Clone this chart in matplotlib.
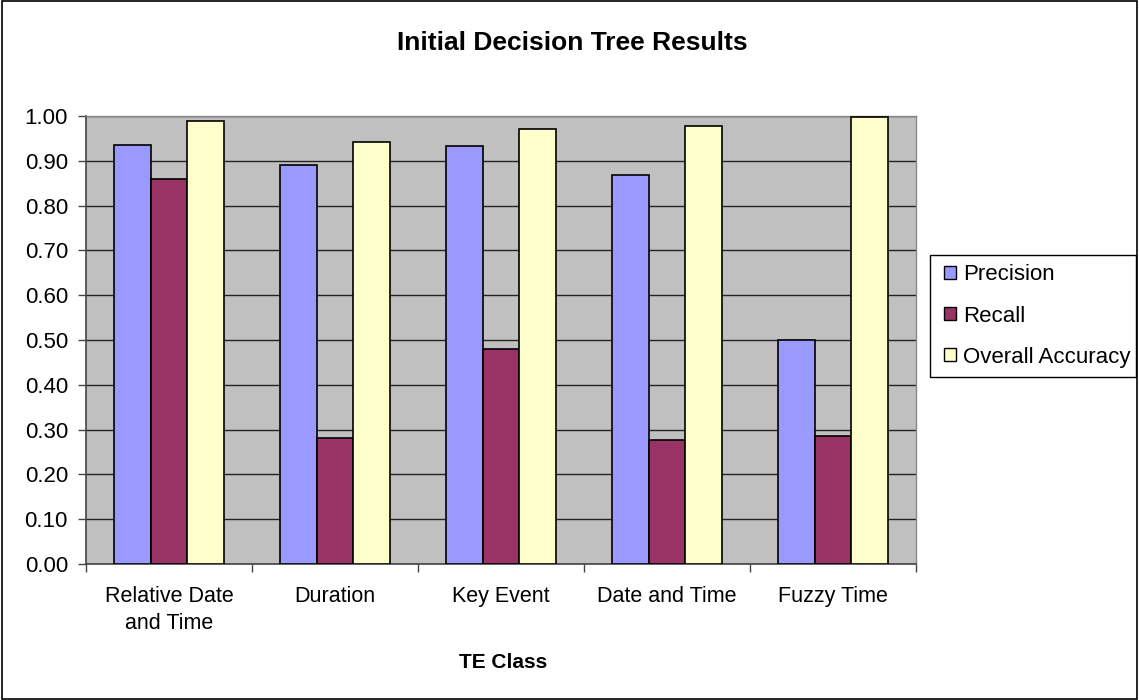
import matplotlib
matplotlib.use("Agg")
import matplotlib.pyplot as plt
from matplotlib.patches import Rectangle
from matplotlib.ticker import FixedLocator, MultipleLocator, NullFormatter
import numpy as np

plt.rcParams['font.family'] = ['Liberation Sans', 'DejaVu Sans']

categories = ["Relative Date\nand Time", "Duration", "Key Event", "Date and Time", "Fuzzy Time"]
series_names = ["Precision", "Recall", "Overall Accuracy"]
precision = [0.936, 0.891, 0.932, 0.868, 0.501]
recall = [0.859, 0.281, 0.481, 0.277, 0.285]
accuracy = [0.988, 0.943, 0.970, 0.977, 0.997]
series_values = [precision, recall, accuracy]
series_colors = ["#9999FF", "#993366", "#FFFFCC"]

W, H = 1139, 700
fig = plt.figure(figsize=(W / 100, H / 100), dpi=100)
ax = fig.add_axes([86 / W, 1 - 564 / H, (916 - 86) / W, (564 - 116) / H])
ax.set_facecolor("#C0C0C0")

x = np.arange(len(categories))
bar_w = 1 / 4.5
for i, (name, vals, col) in enumerate(zip(series_names, series_values, series_colors)):
    ax.bar(x + (i - 1) * bar_w, vals, width=bar_w, color=col, edgecolor="black",
           linewidth=1.2, label=name, zorder=3)

ax.set_xlim(-0.5, len(categories) - 0.5)
ax.set_ylim(0, 1.0)
ax.yaxis.set_major_locator(MultipleLocator(0.1))
ax.set_yticklabels([f"{v:.2f}" for v in ax.get_yticks()])
ax.yaxis.grid(True, color="#222222", linewidth=1.0, zorder=1)
ax.set_axisbelow(True)

ax.set_xticks(x)
ax.set_xticklabels(categories, fontsize=15.5, linespacing=1.35)
ax.tick_params(axis="x", which="major", length=0, pad=16)
ax.xaxis.set_minor_locator(FixedLocator(np.arange(-0.5, len(categories), 1.0)))
ax.xaxis.set_minor_formatter(NullFormatter())
ax.tick_params(axis="x", which="minor", length=5.5, width=1, color="#444444", direction="out")
ax.tick_params(axis="y", length=5.5, width=1, color="#444444", labelsize=16, pad=7.5)

for side in ["left", "bottom"]:
    ax.spines[side].set_color("#444444")
    ax.spines[side].set_linewidth(1.2)
for side in ["top", "right"]:
    ax.spines[side].set_color("#888888")
    ax.spines[side].set_linewidth(1.0)

fig.text(572 / W, 1 - 43 / H, "Initial Decision Tree Results", ha="center", va="center",
         fontsize=19, fontweight="bold")
fig.text(503 / W, 1 - 663 / H, "TE Class", ha="center", va="center",
         fontsize=15, fontweight="bold")

# legend entries without matplotlib's frame; the box is drawn separately
leg = ax.legend(loc="center left", bbox_to_anchor=(944 / W, 1 - 316 / H),
                bbox_transform=fig.transFigure, fontsize=16, frameon=False,
                handlelength=0.55, handleheight=0.55, handletextpad=0.3,
                labelspacing=0.9, borderpad=0, borderaxespad=0)
for h in leg.legend_handles:
    h.set_linewidth(1.0)
fig.patches.append(Rectangle((930 / W, 1 - 377 / H), (1136 - 930) / W, (377 - 255) / H,
                             transform=fig.transFigure, fill=False, edgecolor="black",
                             linewidth=1.0))

fig.patches.append(Rectangle((0.0015, 0.002), 0.997, 0.996, transform=fig.transFigure,
                             fill=False, edgecolor="black", linewidth=1.2))

fig.savefig("out.png", dpi=100)
